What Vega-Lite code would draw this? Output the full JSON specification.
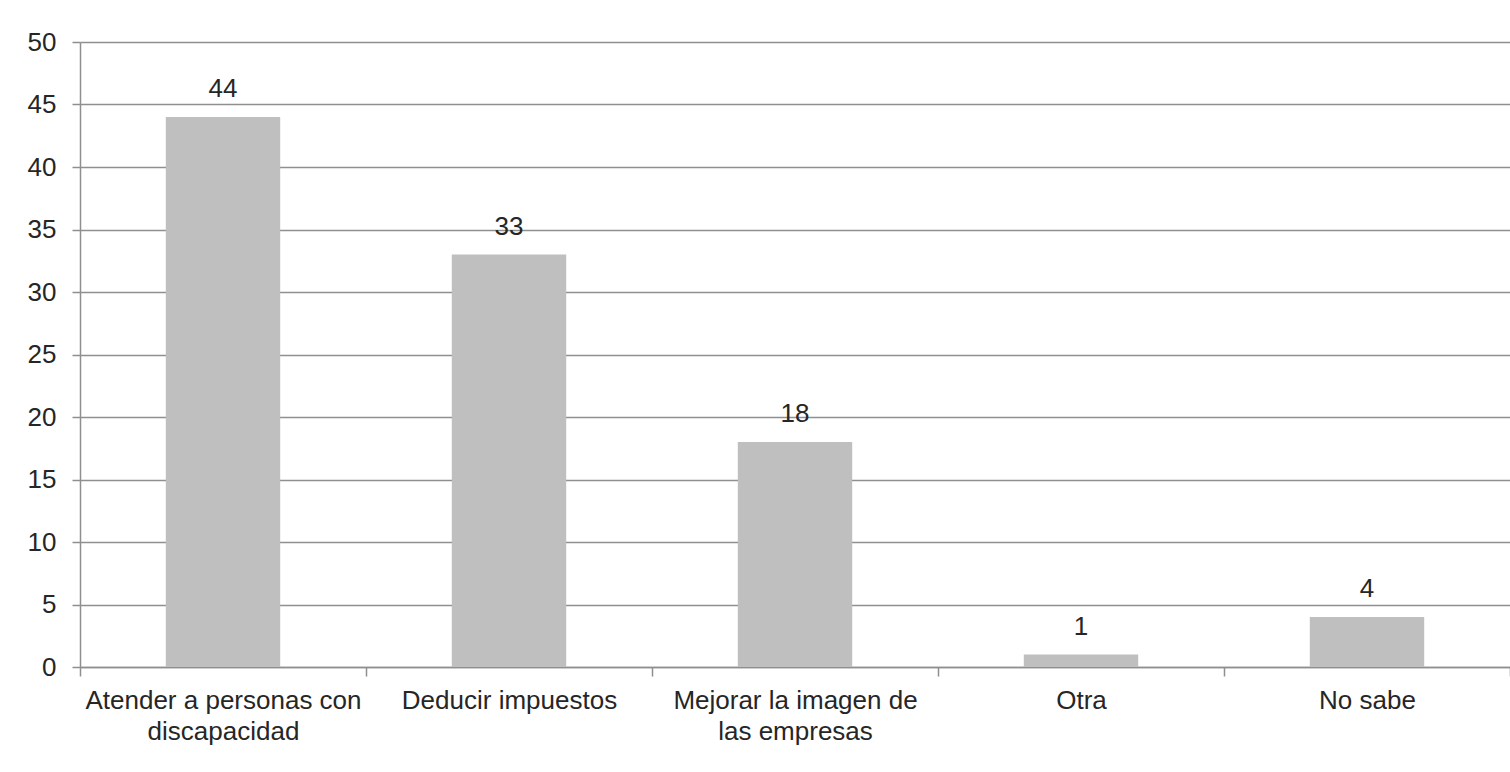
{
  "$schema": "https://vega.github.io/schema/vega-lite/v6.json",
  "width": 1430,
  "height": 625,
  "autosize": {"type": "none"},
  "padding": {"left": 80, "top": 42, "right": 0, "bottom": 105},
  "background": "white",
  "config": {
    "view": {"stroke": null},
    "font": "Liberation Sans"
  },
  "data": {
    "values": [
      {"categoria": "Atender a personas con discapacidad", "valor": 44},
      {"categoria": "Deducir impuestos", "valor": 33},
      {"categoria": "Mejorar la imagen de las empresas", "valor": 18},
      {"categoria": "Otra", "valor": 1},
      {"categoria": "No sabe", "valor": 4}
    ]
  },
  "encoding": {
    "x": {
      "field": "categoria",
      "type": "nominal",
      "sort": null,
      "scale": {"paddingInner": 0, "paddingOuter": 0},
      "axis": {
        "title": null,
        "labelAngle": 0,
        "tickBand": "extent",
        "tickSize": 9,
        "tickColor": "#8f8f8f",
        "tickWidth": 1.5,
        "domainColor": "#8f8f8f",
        "domainWidth": 1.5,
        "labelFont": "Liberation Sans",
        "labelFontSize": 26,
        "labelColor": "#262626",
        "labelPadding": 11,
        "labelLineHeight": 31,
        "labelBaseline": "top",
        "labelLimit": 0,
        "labelExpr": "datum.label == 'Atender a personas con discapacidad' ? ['Atender a personas con', 'discapacidad'] : datum.label == 'Mejorar la imagen de las empresas' ? ['Mejorar la imagen de', 'las empresas'] : datum.label"
      }
    },
    "y": {
      "field": "valor",
      "type": "quantitative",
      "scale": {"domain": [0, 50], "nice": false},
      "axis": {
        "title": null,
        "values": [0, 5, 10, 15, 20, 25, 30, 35, 40, 45, 50],
        "grid": true,
        "gridColor": "#8f8f8f",
        "gridWidth": 1.5,
        "tickSize": 8,
        "tickColor": "#8f8f8f",
        "tickWidth": 1.5,
        "domainColor": "#8f8f8f",
        "domainWidth": 1.5,
        "labelFont": "Liberation Sans",
        "labelFontSize": 26,
        "labelColor": "#262626",
        "labelPadding": 16
      }
    }
  },
  "layer": [
    {
      "mark": {"type": "bar", "color": "#bfbfbf", "width": {"band": 0.4}}
    },
    {
      "mark": {"type": "text", "fontSize": 26, "color": "#262626", "baseline": "alphabetic", "dy": -20, "font": "Liberation Sans"},
      "encoding": {"text": {"field": "valor", "type": "quantitative"}}
    }
  ]
}
